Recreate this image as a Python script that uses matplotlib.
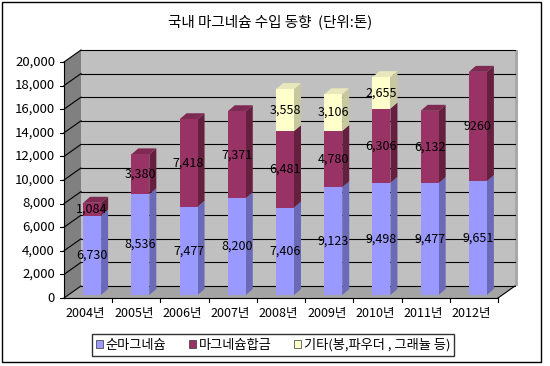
import matplotlib
matplotlib.use("Agg")
import matplotlib.pyplot as plt
import matplotlib.transforms as mtransforms
from matplotlib.patches import Polygon, Rectangle, Patch
import numpy as np

plt.rcParams['font.family'] = ['Noto Sans CJK KR', 'DejaVu Sans']

title = "국내 마그네슘 수입 동향  (단위:톤)"
years = ["2004년", "2005년", "2006년", "2007년", "2008년", "2009년", "2010년", "2011년", "2012년"]
series_names = ["순마그네슘", "마그네슘합금", "기타(봉,파우더 , 그래뉼 등)"]
pure_mg = [6730, 8536, 7477, 8200, 7406, 9123, 9498, 9477, 9651]
mg_alloy = [1084, 3380, 7418, 7371, 6481, 4780, 6306, 6132, 9260]
others = [0, 0, 0, 0, 3558, 3106, 2655, 0, 0]
alloy_labels = ["1,084", "3,380", "7,418", "7,371", "6,481", "4,780", "6,306", "6,132", "9260"]
yticks = list(range(0, 20001, 2000))

front_cols = ["#9999FF", "#993366", "#FFFFCC"]
side_cols = ["#6A6AB8", "#66203F", "#C8C8A0"]
top_cols = ["#8585E6", "#7E2A52", "#E8E8BC"]

W, H, DPI = 5.5, 3.66, 100
fig = plt.figure(figsize=(W, H), dpi=DPI)
ax = fig.add_axes([64 / 550, (366 - 298) / 366, 434 / 550, 236 / 366])
ax.set_xlim(0, len(years))
ax.set_ylim(0, 20000)
ax.axis('off')

WALL_DX, WALL_DY = 17, 12
BAR_DX, BAR_DY = 4, 3
BAR_SIDE_DX, BAR_SIDE_DY = 7, 6

def off(dx, dy):
    return ax.transData + mtransforms.ScaledTranslation(dx / DPI, dy / DPI, fig.dpi_scale_trans)

tr_back = off(WALL_DX, WALL_DY)
tr_bar = off(BAR_DX, BAR_DY)
px_x = (434 / 550 * W * DPI) / len(years)
px_y = (236 / 366 * H * DPI) / 20000
wdx = WALL_DX / px_x
wdy = WALL_DY / px_y
n = len(years)

ax.add_patch(Polygon([(0, 0), (n, 0), (n, 20000), (0, 20000)], closed=True,
                     facecolor="#C0C0C0", edgecolor="none", transform=tr_back, clip_on=False, zorder=0))
ax.add_patch(Polygon([(n, 0), (n + 3 / px_x, 0), (n + 3 / px_x, 20000), (n, 20000)], closed=True,
                     facecolor="#A8A8A8", edgecolor="none", transform=tr_back, clip_on=False, zorder=0))
ax.add_patch(Polygon([(0, 0), (wdx, wdy), (wdx, 20000 + wdy), (0, 20000)], closed=True,
                     facecolor="#808080", edgecolor="none", clip_on=False, zorder=0))
ax.add_patch(Polygon([(0, 0), (n, 0), (n + wdx, wdy), (wdx, wdy)], closed=True,
                     facecolor="#A4A4A4", edgecolor="none", clip_on=False, zorder=0))

for y in yticks:
    ax.plot([0, n], [y, y], color="black", lw=0.8, transform=tr_back, clip_on=False, zorder=1)
    ax.plot([0, wdx], [y, y + wdy], color="black", lw=0.8, clip_on=False, zorder=1)
    ax.plot([0, -4 / px_x], [y, y], color="black", lw=0.8, clip_on=False, zorder=1)
    ax.text(-9 / px_x, y, f"{y:,}", ha="right", va="center", fontsize=9.5, clip_on=False)

ax.plot([0, 0], [0, 20000], color="black", lw=0.8, clip_on=False, zorder=1)
ax.plot([0, n], [0, 0], color="black", lw=0.8, clip_on=False, zorder=1)
ax.plot([n, n + wdx], [0, wdy], color="black", lw=0.8, clip_on=False, zorder=1)
for i in range(1, n + 1):
    ax.plot([i, i], [0, -4 / px_y], color="black", lw=0.8, clip_on=False, zorder=1)
for i, lab in enumerate(years):
    ax.text(i + 0.45, -15 / px_y, lab, ha="center", va="center", fontsize=9, clip_on=False)

x = np.arange(n) + 0.5
bw = 18 / px_x
sdx = BAR_SIDE_DX / px_x
sdy = BAR_SIDE_DY / px_y
data = [pure_mg, mg_alloy, others]
bottoms = np.zeros(n)
tops_total = np.array(pure_mg) + np.array(mg_alloy) + np.array(others)
label_sets = [[f"{v:,}" for v in pure_mg], alloy_labels, [f"{v:,}" for v in others]]
for s, vals in enumerate(data):
    vals = np.array(vals, dtype=float)
    bars = ax.bar(x, vals, bw, bottom=bottoms, color=front_cols[s], edgecolor="none", zorder=3)
    for b in bars:
        b.set_transform(tr_bar)
        b.set_clip_on(False)
    for i in range(n):
        if vals[i] <= 0:
            continue
        x1 = x[i] + bw / 2
        y0, y1 = bottoms[i], bottoms[i] + vals[i]
        ax.add_patch(Polygon([(x1, y0), (x1 + sdx, y0 + sdy), (x1 + sdx, y1 + sdy), (x1, y1)], closed=True,
                             facecolor=side_cols[s], edgecolor="none", transform=tr_bar, clip_on=False, zorder=2))
        if abs(y1 - tops_total[i]) < 1e-6:
            x0 = x[i] - bw / 2
            ax.add_patch(Polygon([(x0, y1), (x1, y1), (x1 + sdx, y1 + sdy), (x0 + sdx, y1 + sdy)], closed=True,
                                 facecolor=top_cols[s], edgecolor="none", transform=tr_bar, clip_on=False, zorder=2))
        ax.text(x[i], (y0 + y1) / 2, label_sets[s][i], ha="center", va="center", fontsize=9,
                transform=tr_bar, clip_on=False, zorder=5)
    bottoms = bottoms + vals

fig.text(270 / 550, 1 - 22 / 366, title, ha="center", va="center", fontsize=10.5)

handles = [Patch(facecolor=front_cols[k], edgecolor="#333333", linewidth=0.5) for k in range(3)]
leg = fig.legend(handles, series_names, loc="center", bbox_to_anchor=(273 / 550, 1 - 345 / 366), ncol=3,
                 fontsize=9.5, frameon=True, fancybox=False, edgecolor="black", handlelength=0.55,
                 handleheight=0.55, handletextpad=0.2, columnspacing=1.7, borderpad=0.3,
                 borderaxespad=0)
leg.get_frame().set_linewidth(1.0)

fig.patches.append(Rectangle((1.5 / 550, 1 - 362 / 366), 539 / 550, 360.5 / 366, transform=fig.transFigure,
                             fill=False, edgecolor="black", linewidth=1.0))

fig.savefig("out.png", dpi=DPI)
